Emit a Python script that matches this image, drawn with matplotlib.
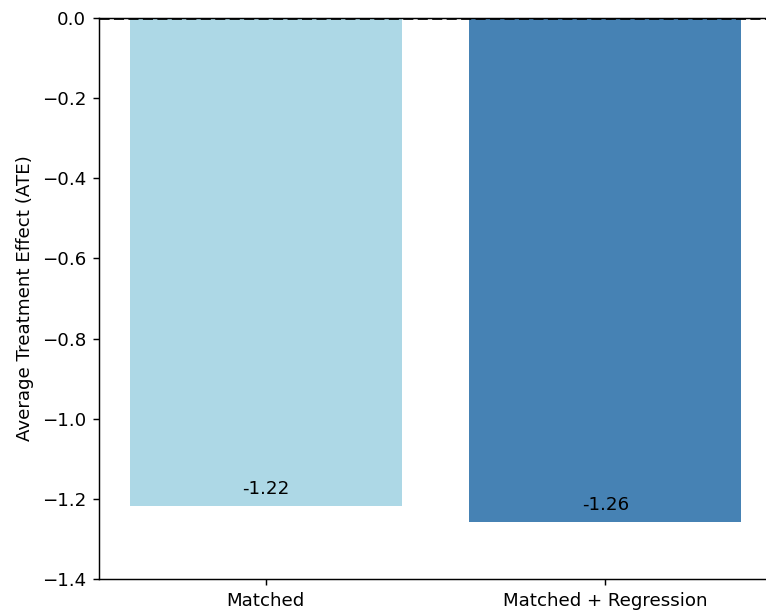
import matplotlib
matplotlib.use("Agg")
import matplotlib.pyplot as plt

# estimates
methods = ["Matched", "Matched + Regression"]
ate = [-1.218, -1.259]
bar_colors = ["lightblue", "steelblue"]

W, H = 766, 612
DPI = 131
fig = plt.figure(figsize=(W / DPI, H / DPI), dpi=DPI)
# axes run slightly past the right edge, as in the cropped original
ax = fig.add_axes([99 / W, 33 / H, (772 - 99) / W, (579 - 18) / H])

ax.bar(methods, ate, color=bar_colors)
ax.axhline(0, color="black", linestyle="--", linewidth=1.5)
for i, v in enumerate(ate):
    ax.text(i, v + 0.02, f"{v:.2f}", ha="center", va="bottom")

ax.set_ylim(-1.4, 0)
ax.set_ylabel("Average Treatment Effect (ATE)")

fig.savefig("out.png", dpi=DPI)
